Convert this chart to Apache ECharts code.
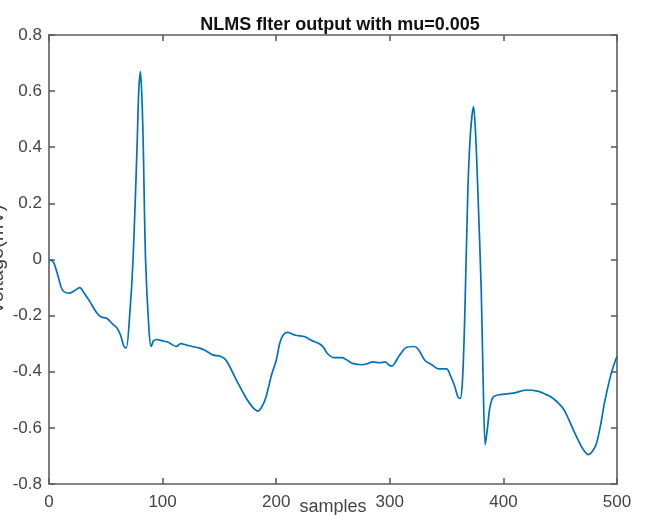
<!DOCTYPE html>
<html>
<head>
<meta charset="utf-8">
<script src="https://cdn.jsdelivr.net/npm/echarts@6/dist/echarts.min.js"></script>
<style>
  html, body { margin: 0; padding: 0; background: #fff; }
  #main { width: 648px; height: 515px; }
</style>
</head>
<body>
<div id="main"></div>
<script>
// samples
const samples = [0, 4, 8, 12, 18, 23, 27, 31, 36, 42, 46, 51, 56, 60, 63, 66, 68, 71, 74, 77.5, 79, 80.5, 82, 83, 85, 88, 90, 92, 95, 100,
  105, 112, 116, 121, 126, 132, 138, 144, 151, 156, 165, 173, 179, 184, 188, 191, 196, 200, 203, 206, 210, 217, 225, 232, 238, 242, 245,
  251, 258, 263, 267, 276, 281, 285, 291, 296, 299, 302, 305, 308, 314, 321, 325, 331, 337, 343, 350, 353, 357, 360, 362, 364, 366,
  368.7, 371, 373.7, 375.5, 377.5, 380.5, 382, 384, 386, 388, 391, 396, 401, 410, 420, 431, 437, 442, 448, 454, 463, 470, 475, 479,
  482, 486, 489, 495, 500];
const voltage = [0.0, -0.01, -0.06, -0.11, -0.12, -0.11, -0.10, -0.12, -0.15, -0.19, -0.205, -0.21, -0.23, -0.245, -0.27, -0.31, -0.315, -0.2, 0.0, 0.4, 0.6, 0.67, 0.55, 0.4, 0.0, -0.25, -0.31, -0.29, -0.285, -0.29,
  -0.295, -0.31, -0.30, -0.305, -0.31, -0.315, -0.325, -0.34, -0.345, -0.36, -0.43, -0.49, -0.525, -0.54, -0.52, -0.49, -0.41, -0.36, -0.30, -0.27, -0.26, -0.27, -0.275, -0.29, -0.30, -0.315, -0.335,
  -0.35, -0.35, -0.36, -0.37, -0.375, -0.37, -0.365, -0.368, -0.365, -0.375, -0.38, -0.365, -0.345, -0.315, -0.31, -0.32, -0.36, -0.375, -0.39, -0.39, -0.41, -0.45, -0.49, -0.495, -0.43, -0.2,
  0.245, 0.45, 0.545, 0.45, 0.245, -0.11, -0.4, -0.66, -0.6, -0.53, -0.49, -0.482, -0.48, -0.475, -0.465, -0.47, -0.48, -0.49, -0.51, -0.54, -0.62, -0.675, -0.695, -0.68,
  -0.655, -0.58, -0.51, -0.405, -0.345];

const xTicks = [0, 100, 200, 300, 400, 500];
const yTicks = [-0.8, -0.6, -0.4, -0.2, 0, 0.2, 0.4, 0.6, 0.8];

const lineData = samples.map((s, i) => [s, voltage[i]]);

var myChart = echarts.init(document.getElementById('main'));

const axisCol = '#5e5e5e';
const labelCol = '#444444';
const tick = { show: true, inside: true, length: 6, lineStyle: { color: axisCol, width: 1.6 } };

var option = {
  animation: false,
  title: {
    text: 'NLMS flter output with mu=0.005',
    left: 335,
    textAlign: 'center',
    top: 11,
    textStyle: { fontFamily: 'Liberation Sans', fontSize: 18, fontWeight: 'bold', color: '#111' }
  },
  grid: { left: 49, right: 31, top: 35, bottom: 31, containLabel: false, outerBoundsMode: 'none' },
  xAxis: [
    {
      type: 'value',
      min: xTicks[0],
      max: xTicks[xTicks.length - 1],
      interval: 100,
      name: 'samples',
      nameLocation: 'middle',
      nameGap: 14,
      nameMoveOverlap: false,
      nameTextStyle: { fontFamily: 'Liberation Sans', fontSize: 18, color: labelCol },
      axisLine: { onZero: false, lineStyle: { color: axisCol, width: 1.6 } },
      axisTick: tick,
      axisLabel: { fontFamily: 'Liberation Sans', fontSize: 17, color: labelCol, margin: 10 },
      splitLine: { show: false }
    },
    {
      type: 'value',
      position: 'top',
      min: xTicks[0],
      max: xTicks[xTicks.length - 1],
      interval: 100,
      axisLine: { show: true, onZero: false, lineStyle: { color: axisCol, width: 1.6 } },
      axisTick: tick,
      axisLabel: { show: false },
      splitLine: { show: false }
    }
  ],
  yAxis: [
    {
      type: 'value',
      min: yTicks[0],
      max: yTicks[yTicks.length - 1],
      interval: 0.2,
      name: 'Voltage(mV)',
      nameLocation: 'middle',
      nameGap: 42,
      nameMoveOverlap: false,
      nameTextStyle: { fontFamily: 'Liberation Sans', fontSize: 20, color: labelCol },
      axisLine: { show: true, onZero: false, lineStyle: { color: axisCol, width: 1.6 } },
      axisTick: tick,
      axisLabel: {
        fontFamily: 'Liberation Sans', fontSize: 17, color: labelCol, margin: 7,
        formatter: v => (Math.abs(v) < 1e-9 ? '0' : String(Math.round(v * 10) / 10))
      },
      splitLine: { show: false }
    },
    {
      type: 'value',
      position: 'right',
      min: yTicks[0],
      max: yTicks[yTicks.length - 1],
      interval: 0.2,
      axisLine: { show: true, onZero: false, lineStyle: { color: axisCol, width: 1.6 } },
      axisTick: tick,
      axisLabel: { show: false },
      splitLine: { show: false }
    }
  ],
  series: [
    {
      type: 'line',
      data: lineData,
      showSymbol: false,
      smooth: 0.3,
      lineStyle: { color: '#0072BD', width: 1.7 },
      itemStyle: { color: '#0072BD' }
    }
  ]
};

myChart.setOption(option);
</script>
</body>
</html>
